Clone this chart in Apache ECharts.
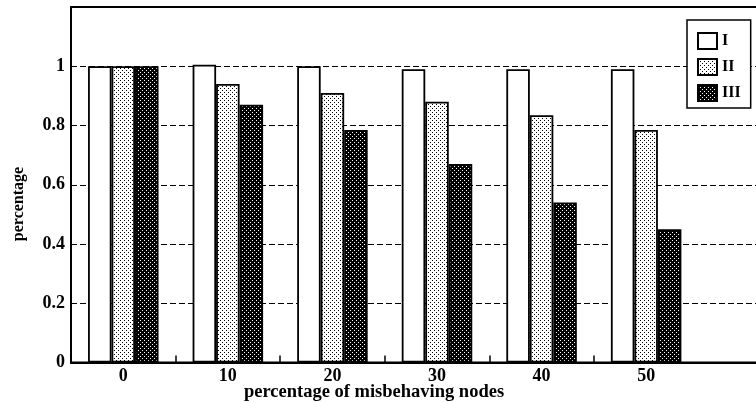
<!DOCTYPE html>
<html>
<head>
<meta charset="utf-8">
<script src="https://cdn.jsdelivr.net/npm/echarts@6/dist/echarts.min.js"></script>
<style>
html,body{margin:0;padding:0;background:#fff;}
#c{width:756px;height:403px;}
</style>
</head>
<body>
<div id="c"></div>
<script>
// ---- data ----
const categories = ['0', '10', '20', '30', '40', '50', ''];
const seriesNames = ['I', 'II', 'III'];
const valuesI   = [1.00, 1.005, 1.00, 0.99, 0.99, 0.99];
const valuesII  = [1.00, 0.94, 0.91, 0.88, 0.835, 0.785];
const valuesIII = [1.00, 0.87, 0.785, 0.67, 0.54, 0.45];
const yTicks = [0, 0.2, 0.4, 0.6, 0.8, 1];
const xTitle = 'percentage of misbehaving nodes';
const yTitle = 'percentage';

// ---- patterns ----
function makePattern(bg, dot) {
  const c = document.createElement('canvas');
  c.width = 4; c.height = 4;
  const g = c.getContext('2d');
  g.fillStyle = bg; g.fillRect(0, 0, 4, 4);
  g.fillStyle = dot;
  g.fillRect(0, 0, 1, 1);
  g.fillRect(2, 2, 1, 1);
  return { image: c, repeat: 'repeat' };
}
const patWhite = '#ffffff';
const patLight = makePattern('#ffffff', '#000000');
const patDark = makePattern('#000000', '#ffffff');

const font = 'Liberation Serif';
const chart = echarts.init(document.getElementById('c'), null, { renderer: 'canvas' });
const barStyle = (color) => ({ color: color, borderColor: '#000', borderWidth: 1.8 });

chart.setOption({
  animation: false,
  backgroundColor: '#fff',
  grid: {
    left: 71, top: 7, width: 732, bottom: 40.5,
    outerBoundsMode: 'none',
    containLabel: false,
    show: true, borderColor: '#000', borderWidth: 2, backgroundColor: 'transparent'
  },
  legend: {
    orient: 'vertical',
    left: 687, top: 20,
    padding: [12, 10, 6, 10],
    itemWidth: 19, itemHeight: 16, itemGap: 8,
    borderColor: '#000', borderWidth: 1.5,
    backgroundColor: '#fff',
    icon: 'rect',
    data: seriesNames,
    textStyle: { fontFamily: font, fontWeight: 'bold', fontSize: 16, color: '#000', padding: [0, 0, 0, 0] }
  },
  xAxis: {
    type: 'category',
    data: categories,
    boundaryGap: true,
    axisLine: { show: true, lineStyle: { color: '#000', width: 2 } },
    axisTick: { show: true, inside: true, length: 7, lineStyle: { color: '#000', width: 1.5 },
      interval: function (i) { return i < categories.length - 1; } },
    axisLabel: { fontFamily: font, fontWeight: 'bold', fontSize: 18, color: '#000', margin: 5, interval: 0 },
    splitLine: { show: false }
  },
  yAxis: {
    type: 'value',
    min: 0, max: 1.2, interval: 0.2,
    axisLine: { show: true, lineStyle: { color: '#000', width: 2 } },
    axisTick: { show: false },
    axisLabel: {
      fontFamily: font, fontWeight: 'bold', fontSize: 18, color: '#000', margin: 6,
      formatter: function (v) {
        const r = Math.round(v * 10) / 10;
        return yTicks.some(t => Math.abs(t - r) < 1e-6) ? String(r) : '';
      }
    },
    splitLine: { show: true, lineStyle: { color: '#000', width: 1.2, type: [6, 3] } }
  },
  series: [
    { name: seriesNames[0], type: 'bar', data: valuesI, barWidth: 23.5, barGap: '0%', itemStyle: barStyle(patWhite) },
    { name: seriesNames[1], type: 'bar', data: valuesII, barWidth: 23.5, barGap: '0%', itemStyle: barStyle(patLight) },
    { name: seriesNames[2], type: 'bar', data: valuesIII, barWidth: 23.5, barGap: '0%', itemStyle: barStyle(patDark) }
  ],
  graphic: [
    { type: 'text', x: 374, y: 392, style: { text: xTitle, font: 'bold 18.5px "Liberation Serif"', fill: '#000', textAlign: 'center', textVerticalAlign: 'middle' } },
    { type: 'text', x: 18.5, y: 204, rotation: Math.PI / 2, style: { text: yTitle, font: 'bold 16px "Liberation Serif"', fill: '#000', textAlign: 'center', textVerticalAlign: 'middle' } }
  ]
});
</script>
</body>
</html>
